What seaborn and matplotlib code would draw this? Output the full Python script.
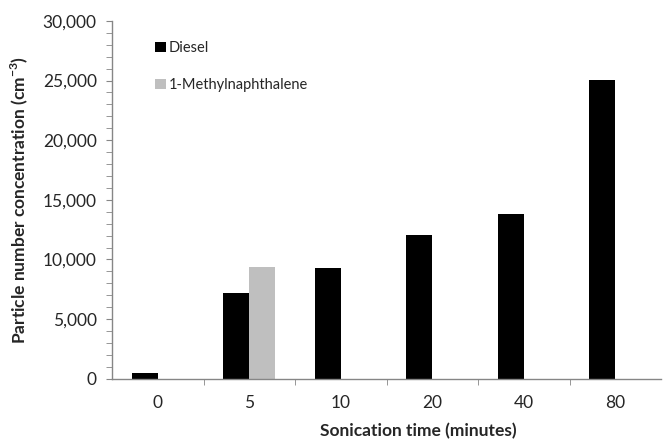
import numpy as np
import pandas as pd
import matplotlib
matplotlib.use('Agg')
import matplotlib.pyplot as plt
from matplotlib.ticker import MultipleLocator, FixedLocator, FuncFormatter
from matplotlib.patches import Patch
import seaborn as sns

# datos
tiempos = ['0', '5', '10', '20', '40', '80']
diesel = [450, 7200, 9250, 12050, 13850, 25050]
metilnaftaleno = [np.nan, 9400, np.nan, np.nan, np.nan, np.nan]
series = ['Diesel', '1-Methylnaphthalene']
colores = ['#000000', '#BFBFBF']

df = pd.DataFrame({'tiempo': tiempos, 'Diesel': diesel, '1-Methylnaphthalene': metilnaftaleno})
df = df.melt(id_vars='tiempo', var_name='serie', value_name='conc')

sns.set_style('white')
plt.rcParams['font.family'] = ['Lato', 'DejaVu Sans']
plt.rcParams['mathtext.fontset'] = 'custom'
plt.rcParams['mathtext.rm'] = 'Lato'
plt.rcParams['mathtext.bf'] = 'Lato:bold'

fig = plt.figure(figsize=(6.63, 4.44), dpi=100)
ax = fig.add_axes([0.169, 0.147, 0.828, 0.806])

sns.barplot(data=df, x='tiempo', y='conc', hue='serie', order=tiempos,
            hue_order=series, palette=colores, width=0.57, dodge=True,
            saturation=1, linewidth=0, legend=False, ax=ax)

ax.set_xlim(-0.5, len(tiempos) - 0.5)
ax.set_ylim(0, 30000)

gris = '#868686'
for s in ['top', 'right']:
    ax.spines[s].set_visible(False)
for s in ['left', 'bottom']:
    ax.spines[s].set_color(gris)
    ax.spines[s].set_linewidth(1)

ax.yaxis.set_major_locator(MultipleLocator(5000))
ax.yaxis.set_minor_locator(MultipleLocator(1000))
ax.yaxis.set_major_formatter(FuncFormatter(lambda v, p: f'{int(v):,}'))
ax.tick_params(axis='y', which='both', direction='out', length=4, color=gris,
               labelsize=12.5, pad=7, left=True)
ax.xaxis.set_minor_locator(FixedLocator(np.arange(0.5, len(tiempos) - 0.5, 1)))
ax.tick_params(axis='x', which='major', length=0, labelsize=12.5, pad=12)
ax.tick_params(axis='x', which='minor', direction='out', length=4, color=gris, bottom=True)

ax.set_xlabel('Sonication time (minutes)', fontsize=12.5, fontweight='bold')
ax.xaxis.set_label_coords(0.557, -0.125)
ax.set_ylabel(r'Particle number concentration (cm$^{\mathbf{-3}}$)', fontsize=12.5,
              fontweight='bold', labelpad=9)

handles = [Patch(facecolor=c, edgecolor='none') for c in colores]
ax.legend(handles, series, loc='upper left', bbox_to_anchor=(0.055, 0.98), frameon=False,
          fontsize=10.5, labelspacing=1.55, handlelength=0.7, handleheight=0.7,
          handletextpad=0.2)

fig.savefig('out.png', dpi=100)
